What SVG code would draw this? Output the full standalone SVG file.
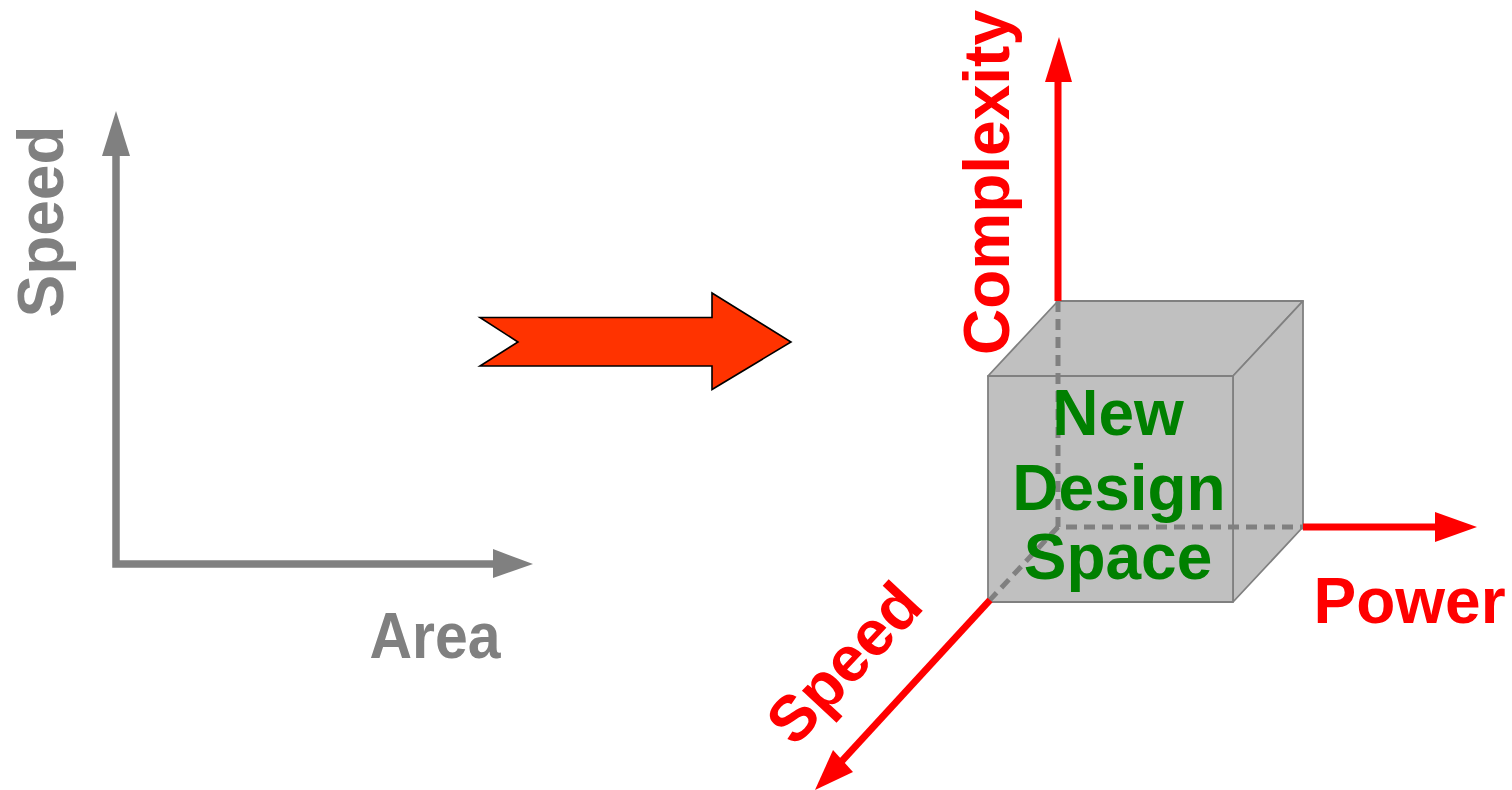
<svg xmlns="http://www.w3.org/2000/svg" width="1512" height="790" viewBox="0 0 1512 790">
  <style>
    .lbl { font-family: "Liberation Sans", Arial, sans-serif; font-weight: bold; font-size: 64px; }
    .grey { fill: #808080; }
    .red { fill: #FF0000; }
    .green { fill: #008000; }
    .axis-g { stroke: #808080; stroke-width: 7.5; fill: none; }
    .axis-r { stroke: #FF0000; stroke-width: 7; fill: none; }
    .face { fill: #C0C0C0; stroke: #808080; stroke-width: 1.8; stroke-linejoin: round; }
    .hidden { stroke: #808080; stroke-width: 5; stroke-dasharray: 11 7; fill: none; }
  </style>

  <!-- 2D design space: Speed vs Area -->
  <g id="axes-2d">
    <polyline class="axis-g" points="116,152 116,564 497,564"/>
    <polygon class="grey" points="116,111 102,156 130,156"/>
    <polygon class="grey" points="533,564 493,549 493,578"/>
  </g>
  <g id="label-speed-2d">
    <text class="lbl grey" text-anchor="middle" transform="translate(63,221.5) rotate(-90)">Speed</text>
  </g>
  <g id="label-area">
    <text class="lbl grey" text-anchor="middle" x="435" y="658" font-size="63" textLength="131" lengthAdjust="spacingAndGlyphs">Area</text>
  </g>

  <!-- transition arrow -->
  <g id="big-arrow">
    <polygon points="480,317.5 712,317.5 712,293 791,342 712,389.5 712,366 480,366 518,342"
             fill="#FF3300" stroke="#000000" stroke-width="1.6" stroke-linejoin="miter"/>
  </g>

  <!-- 3D design space cube -->
  <g id="cube">
    <polygon class="face" points="988,376 1058,301 1303,301 1233,376"/>
    <polygon class="face" points="1233,376 1303,301 1303,527 1233,602"/>
    <rect class="face" x="988" y="376" width="245" height="226"/>
    <polyline class="hidden" points="1058,301 1058,527 1303,527"/>
    <line class="hidden" x1="1058" y1="527" x2="988" y2="602"/>
    <text class="lbl green" text-anchor="middle" x="1118" y="435">New</text>
    <text class="lbl green" text-anchor="middle" x="1119" y="510">Design</text>
    <text class="lbl green" text-anchor="middle" x="1118" y="579">Space</text>
  </g>

  <!-- 3D axes -->
  <g id="connectors">
    <line class="axis-r" x1="1058" y1="301" x2="1058" y2="78"/>
    <polygon class="red" points="1059,37 1045,82 1072,82"/>
    <line class="axis-r" x1="1303" y1="527" x2="1440" y2="527"/>
    <polygon class="red" points="1477,527 1435,512 1435,542"/>
    <line class="axis-r" x1="990" y1="600" x2="840" y2="763"/>
    <polygon class="red" points="815,790 833,750 853,772"/>
  </g>
  <g id="label-complexity">
    <text class="lbl red" text-anchor="middle" transform="translate(1009,182.5) rotate(-90)">Complexity</text>
  </g>
  <g id="label-power">
    <text class="lbl red" text-anchor="middle" x="1409.5" y="623">Power</text>
  </g>
  <g id="label-speed-3d">
    <text class="lbl red" text-anchor="middle" transform="translate(844,663) rotate(-47)" y="22">Speed</text>
  </g>
</svg>
